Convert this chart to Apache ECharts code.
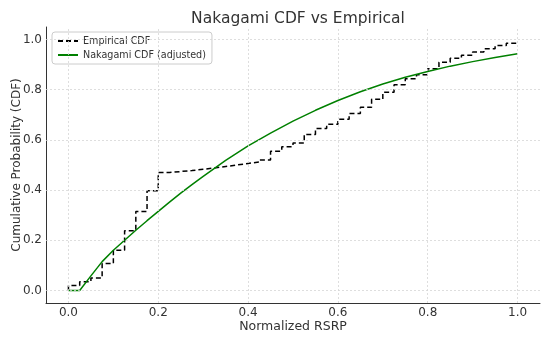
<!DOCTYPE html>
<html>
<head>
<meta charset="utf-8">
<script src="https://cdn.jsdelivr.net/npm/echarts@6/dist/echarts.min.js"></script>
<style>html,body{margin:0;padding:0;background:#fff}#c{width:550px;height:340px}</style>
</head>
<body>
<div id="c"></div>
<script>
// Empirical CDF (step, post)
const empX = [0, 0, 0.025, 0.05, 0.075, 0.1, 0.125, 0.15, 0.175, 0.2, 0.225, 0.25, 0.275, 0.3, 0.325, 0.35, 0.375, 0.4, 0.425, 0.45, 0.475, 0.5, 0.525, 0.55, 0.575, 0.6, 0.625, 0.65, 0.675, 0.7, 0.725, 0.75, 0.775, 0.8, 0.825, 0.85, 0.875, 0.9, 0.925, 0.95, 0.975, 1.0];
const empY = [0, 0.02, 0.035, 0.05, 0.107, 0.16, 0.238, 0.315, 0.397, 0.47, 0.474, 0.478, 0.483, 0.488, 0.494, 0.5, 0.506, 0.512, 0.52, 0.555, 0.573, 0.588, 0.622, 0.645, 0.662, 0.682, 0.705, 0.73, 0.762, 0.79, 0.82, 0.844, 0.86, 0.884, 0.91, 0.925, 0.937, 0.95, 0.963, 0.976, 0.985, 0.99];
// Nakagami CDF (adjusted)
const nakX = [0, 0.025, 0.05, 0.075, 0.1, 0.125, 0.15, 0.175, 0.2, 0.225, 0.25, 0.275, 0.3, 0.35, 0.4, 0.45, 0.5, 0.55, 0.6, 0.65, 0.7, 0.75, 0.8, 0.85, 0.9, 0.95, 1.0];
const nakY = [0, 0, 0.058, 0.115, 0.16, 0.2, 0.24, 0.278, 0.315, 0.352, 0.388, 0.422, 0.455, 0.518, 0.576, 0.627, 0.675, 0.718, 0.757, 0.792, 0.823, 0.85, 0.873, 0.894, 0.912, 0.928, 0.943];
const xTicks = [0, 0.2, 0.4, 0.6, 0.8, 1.0];
const yTicks = [0, 0.2, 0.4, 0.6, 0.8, 1.0];

const font = 'DejaVu Sans';
const isTick = (v, ticks) => ticks.some(t => Math.abs(t - v) < 1e-6);

const chart = echarts.init(document.getElementById('c'), null, {renderer: 'canvas'});
const gridLines = [];
xTicks.forEach(v => gridLines.push({xAxis: v}));
yTicks.forEach(v => gridLines.push({yAxis: v}));

chart.setOption({
  animation: false,
  backgroundColor: '#fff',
  textStyle: {fontFamily: font},
  title: {
    text: 'Nakagami CDF vs Empirical',
    left: 293, top: 6, textAlign: 'center',
    textStyle: {fontFamily: font, fontSize: 15.5, fontWeight: 'normal', color: '#333'}
  },
  legend: {
    left: 52, top: 32, orient: 'vertical',
    padding: [4, 6, 4, 5], itemGap: 4,
    itemWidth: 20, itemHeight: 8,
    borderColor: '#ccc', borderWidth: 1, borderRadius: 3,
    backgroundColor: 'rgba(255,255,255,0.85)',
    itemStyle: {opacity: 0},
    textStyle: {fontFamily: font, fontSize: 9.6, color: '#333'},
    data: ['Empirical CDF', 'Nakagami CDF (adjusted)']
  },
  grid: {left: 46, right: 10, top: 27, bottom: 37, containLabel: false, outerBoundsMode: 'none'},
  xAxis: {
    type: 'value', min: -0.05, max: 1.05, interval: 0.05,
    name: 'Normalized RSRP', nameLocation: 'middle', nameGap: 17, nameMoveOverlap: false,
    nameTextStyle: {fontFamily: font, fontSize: 12.5, color: '#333'},
    axisLine: {show: true, onZero: false, lineStyle: {color: '#333', width: 1}},
    axisTick: {show: false},
    splitLine: {show: false},
    axisLabel: {
      fontFamily: font, fontSize: 12, color: '#333', margin: 4,
      showMinLabel: true, showMaxLabel: true,
      formatter: v => isTick(v, xTicks) ? v.toFixed(1) : ''
    }
  },
  yAxis: {
    type: 'value', min: -0.05, max: 1.05, interval: 0.05,
    name: 'Cumulative Probability (CDF)', nameLocation: 'middle', nameGap: 23, nameMoveOverlap: false,
    nameTextStyle: {fontFamily: font, fontSize: 12, color: '#333'},
    axisLine: {show: true, onZero: false, lineStyle: {color: '#333', width: 1}},
    axisTick: {show: false},
    splitLine: {show: false},
    axisLabel: {
      fontFamily: font, fontSize: 12, color: '#333', margin: 4,
      formatter: v => isTick(v, yTicks) ? v.toFixed(1) : ''
    }
  },
  series: [
    {
      name: 'grid', type: 'line', data: [[0, 0]], symbol: 'none', z: 1,
      lineStyle: {opacity: 0}, silent: true,
      markLine: {
        silent: true, symbol: ['none', 'none'], label: {show: false},
        lineStyle: {color: '#d6d6d6', type: [2, 2], width: 0.8},
        data: gridLines, animation: false
      }
    },
    {
      name: 'Empirical CDF', type: 'line', step: 'end', z: 3,
      data: empX.map((x, i) => [x, empY[i]]),
      symbol: 'none', showSymbol: false,
      lineStyle: {color: '#000', width: 1.5, type: [5, 3]},
      itemStyle: {color: '#000'}
    },
    {
      name: 'Nakagami CDF (adjusted)', type: 'line', z: 4,
      data: nakX.map((x, i) => [x, nakY[i]]),
      symbol: 'none', showSymbol: false,
      lineStyle: {color: '#008000', width: 1.5},
      itemStyle: {color: '#008000'}
    }
  ]
});
</script>
</body>
</html>
